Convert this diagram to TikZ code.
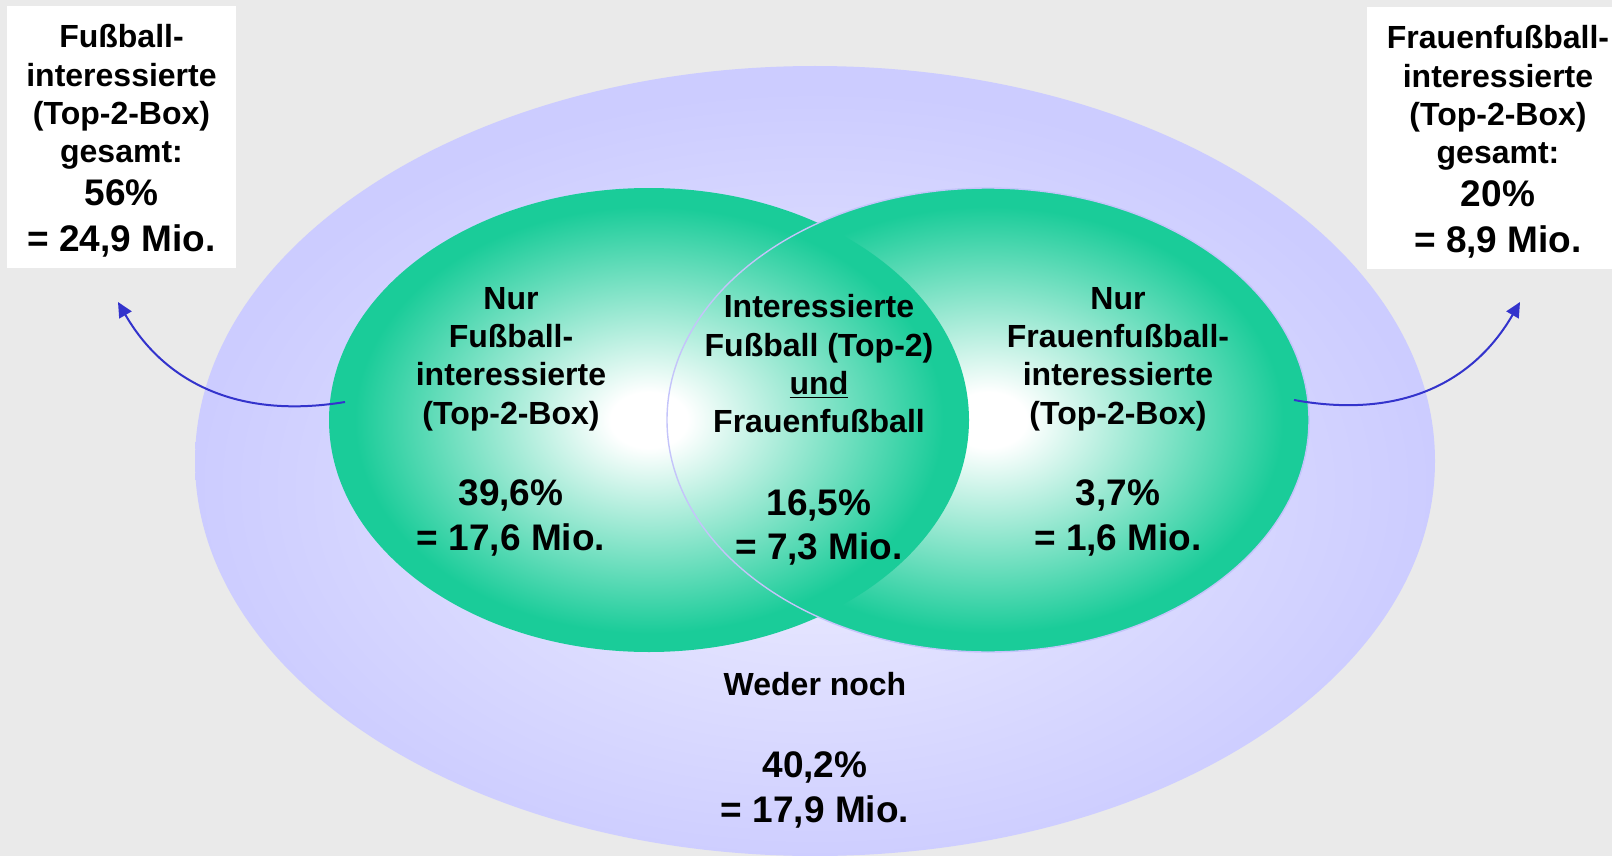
\documentclass[tikz,border=0pt]{standalone}
\usepackage{fontspec}
\setmainfont{Liberation Sans}
\usetikzlibrary{arrows.meta}
\definecolor{bggray}{HTML}{EAEAEA}
\definecolor{vgreen}{HTML}{1ACC99}
\definecolor{lavedge}{HTML}{CCCCFF}
\definecolor{lavlight}{HTML}{EEEEFF}
\definecolor{lavline}{HTML}{C4C4FA}
\definecolor{arrowblue}{HTML}{3333CC}
\pgfdeclareradialshading{greenglow}{\pgfpoint{0bp}{0bp}}{color(0bp)=(white); color(3bp)=(white); color(23bp)=(vgreen); color(25bp)=(vgreen); color(50bp)=(vgreen)}
\pgfdeclareradialshading{lavglow}{\pgfpoint{0bp}{-3bp}}{color(0bp)=(lavlight); color(25bp)=(lavedge); color(50bp)=(lavedge)}
\newcommand\lblfont{\fontsize{16}{19.2}\selectfont\bfseries}
\newcommand\valfont{\fontsize{18.5}{22}\selectfont\bfseries}
\tikzset{
  lbl/.style={align=center, font=\lblfont, inner sep=0pt},
  infobox/.style={fill=white, minimum width=#1, minimum height=131pt, inner sep=0pt},
  venarrow/.style={arrowblue, line width=1pt, -{Triangle[length=7.5pt,width=7pt]}}
}
\begin{document}
\begin{tikzpicture}[x=0.5pt,y=-0.5pt]
  \def\leftx{649}
  \def\rightx{988}
  \def\venny{420}
  \useasboundingbox (0,0) rectangle (1612,856);
  \fill[bggray] (0,0) rectangle (1612,856);

  \shade[shading=lavglow] (815,461) ellipse [x radius=620, y radius=395];
  \shade[shading=greenglow] (\rightx,\venny) ellipse [x radius=321, y radius=232];
  \shade[shading=greenglow] (\leftx,\venny) ellipse [x radius=320, y radius=232];
  \draw[lavline, line width=0.7pt] (\rightx,\venny) ellipse [x radius=321, y radius=232];

  \node[lbl] (onlyfb) at (511,421.5) {Nur\\Fußball-\\interessierte\\(Top-2-Box)\\[21.5pt]\valfont 39,6\%\\[3pt]\valfont = 17,6 Mio.};
  \node[lbl] (both) at (819,430) {Interessierte\\Fußball (Top-2)\\\underline{und}\\Frauenfußball\\[22pt]\valfont 16,5\%\\[3pt]\valfont = 7,3 Mio.};
  \node[lbl] (onlyffb) at (1118,421.5) {Nur\\Frauenfußball-\\interessierte\\(Top-2-Box)\\[21.5pt]\valfont 3,7\%\\[3pt]\valfont = 1,6 Mio.};
  \node[lbl] (neither) at (815,750) {Weder noch\\[22pt]\valfont 40,2\%\\[3pt]\valfont = 17,9 Mio.};

  \node[infobox=114.5pt] (fbbox) at (121.5,137) {};
  \node[lbl] (fbtext) at ([yshift=-2pt]fbbox.center) {Fußball-\\interessierte\\(Top-2-Box)\\gesamt:\\[2pt]\valfont 56\%\\[4pt]\valfont = 24,9 Mio.};
  \node[infobox=131pt] (ffbbox) at (1498,138) {};
  \node[lbl] (ffbtext) at ([yshift=-2pt]ffbbox.center) {Frauenfußball-\\interessierte\\(Top-2-Box)\\gesamt:\\[2pt]\valfont 20\%\\[4pt]\valfont = 8,9 Mio.};

  \coordinate (fbtail) at (345,402);
  \coordinate (fbtip) at (118,302);
  \coordinate (ffbtail) at (1294,400);
  \coordinate (ffbtip) at (1520,302);
  \draw[venarrow] (fbtail) .. controls +(-110,18) and +(45,78) .. (fbtip);
  \draw[venarrow] (ffbtail) .. controls +(110,20) and +(-45,78) .. (ffbtip);
\end{tikzpicture}
\end{document}
